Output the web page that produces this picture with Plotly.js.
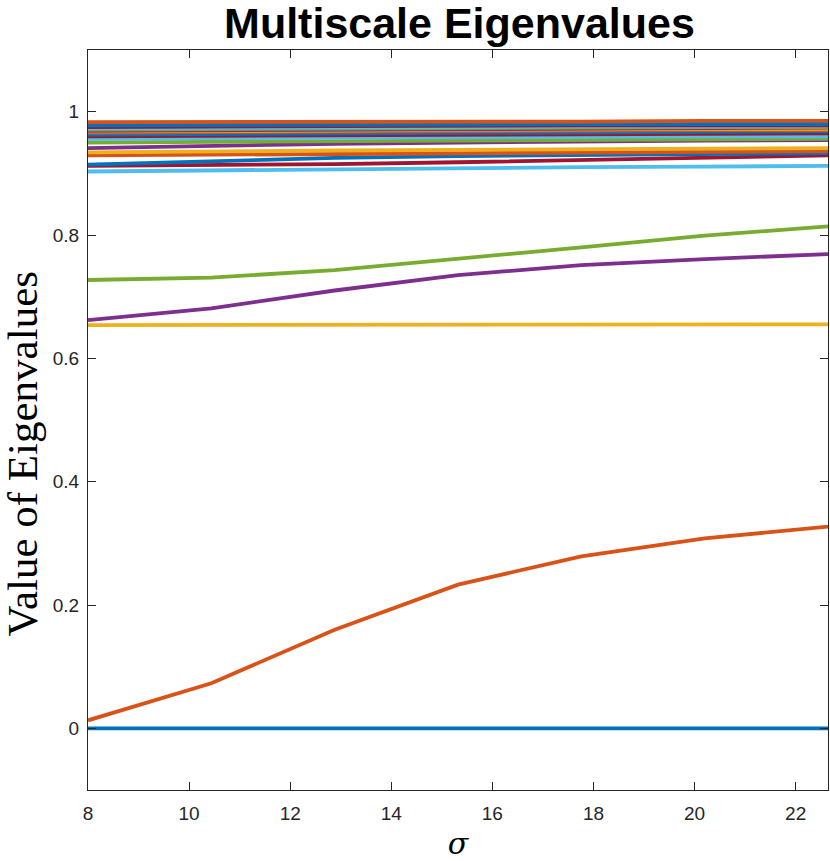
<!DOCTYPE html>
<html>
<head>
<meta charset="utf-8">
<script src="https://cdn.plot.ly/plotly-3.0.1.min.js"></script>
<style>html,body{margin:0;padding:0;background:#fff;}#chart{width:830px;height:861px;}</style>
</head>
<body>
<div id="chart"></div>
<script>
// sigma values (x)
const sigma = [8, 10.44, 12.88, 15.32, 17.76, 20.2, 22.64];

// eigenvalue curves, ordered as at sigma = 8 (ascending)
const ev01 = [0.000, 0.000, 0.000, 0.000, 0.000, 0.000, 0.000];
const ev02 = [0.013, 0.073, 0.160, 0.233, 0.279, 0.308, 0.327];
const ev03 = [0.654, 0.654, 0.654, 0.655, 0.655, 0.655, 0.655];
const ev04 = [0.662, 0.681, 0.710, 0.735, 0.751, 0.761, 0.769];
const ev05 = [0.727, 0.731, 0.743, 0.761, 0.780, 0.799, 0.814];
const ev06 = [0.903, 0.905, 0.907, 0.909, 0.910, 0.911, 0.912];
const ev07 = [0.912, 0.913, 0.915, 0.918, 0.922, 0.926, 0.929];
const ev08 = [0.914, 0.920, 0.925, 0.928, 0.930, 0.932, 0.933];
const ev09 = [0.929, 0.930, 0.932, 0.933, 0.934, 0.935, 0.936];
const ev10 = [0.934, 0.936, 0.937, 0.938, 0.939, 0.940, 0.941];
const ev11 = [0.941, 0.945, 0.948, 0.950, 0.952, 0.953, 0.954];
const ev12 = [0.950, 0.951, 0.952, 0.953, 0.954, 0.955, 0.956];
const ev13 = [0.956, 0.957, 0.958, 0.959, 0.959, 0.960, 0.960];
const ev14 = [0.960, 0.961, 0.962, 0.963, 0.964, 0.965, 0.965];
const ev15 = [0.963, 0.964, 0.965, 0.966, 0.967, 0.967, 0.968];
const ev16 = [0.966, 0.967, 0.968, 0.969, 0.969, 0.970, 0.970];
const ev17 = [0.968, 0.969, 0.970, 0.971, 0.971, 0.972, 0.972];
const ev18 = [0.969, 0.970, 0.971, 0.972, 0.973, 0.973, 0.974];
const ev19 = [0.971, 0.972, 0.973, 0.974, 0.974, 0.975, 0.975];
const ev20 = [0.973, 0.974, 0.975, 0.975, 0.976, 0.976, 0.977];
const ev21 = [0.975, 0.976, 0.977, 0.977, 0.978, 0.978, 0.978];
const ev22 = [0.978, 0.978, 0.979, 0.979, 0.980, 0.980, 0.980];
const ev23 = [0.983, 0.983, 0.984, 0.984, 0.984, 0.985, 0.985];

const series = [ev01, ev02, ev03, ev04, ev05, ev06, ev07, ev08, ev09, ev10, ev11, ev12,
                ev13, ev14, ev15, ev16, ev17, ev18, ev19, ev20, ev21, ev22, ev23];

// MATLAB default colour order
const colors = ['#0072BD', '#D95319', '#EDB120', '#7E2F8E', '#77AC30', '#4DBEEE', '#A2142F'];

const xTicks = [8, 10, 12, 14, 16, 18, 20, 22];
const yTicks = [0, 0.2, 0.4, 0.6, 0.8, 1];
const yTickText = ['0', '0.2', '0.4', '0.6', '0.8', '1'];

const traces = series.map((s, i) => ({
  x: sigma, y: s, type: 'scatter', mode: 'lines',
  line: {color: colors[i % colors.length], width: 3.8},
  showlegend: false, hoverinfo: 'skip'
}));

const axisCommon = {
  showgrid: false, zeroline: false, showline: true, mirror: 'ticks',
  linecolor: '#262626', linewidth: 1,
  ticks: 'inside', ticklen: 8, tickcolor: '#262626', tickwidth: 1,
  tickfont: {family: 'Liberation Sans, Arial, sans-serif', size: 19, color: '#262626'}
};

const layout = {
  width: 830, height: 861,
  margin: {l: 88, r: 2, t: 50, b: 71},
  paper_bgcolor: '#fff', plot_bgcolor: '#fff',
  title: {
    text: '<b>Multiscale Eigenvalues</b>',
    font: {family: 'Liberation Sans, Arial, sans-serif', size: 43, color: '#000'},
    x: 0.5536, xanchor: 'center', y: 0.973, yanchor: 'middle'
  },
  xaxis: Object.assign({}, axisCommon, {
    range: [8, 22.64], tickvals: xTicks, ticktext: xTicks.map(String),
    ticklabelstandoff: 6,
    title: {text: '<i>σ</i>', standoff: 12,
      font: {family: 'DejaVu Serif, Liberation Serif, serif', size: 30, color: '#000'}}
  }),
  yaxis: Object.assign({}, axisCommon, {
    range: [-0.1, 1.1], tickvals: yTicks, ticktext: yTickText,
    ticklabelstandoff: 4
  }),
  annotations: [{
    text: 'Value of Eigenvalues', textangle: -90,
    xref: 'paper', yref: 'paper', x: -0.088, y: 0.4547,
    xanchor: 'center', yanchor: 'middle', showarrow: false,
    font: {family: 'Liberation Serif, DejaVu Serif, serif', size: 43, color: '#000'}
  }]
};

Plotly.newPlot('chart', traces, layout, {displayModeBar: false, staticPlot: true});
</script>
</body>
</html>
